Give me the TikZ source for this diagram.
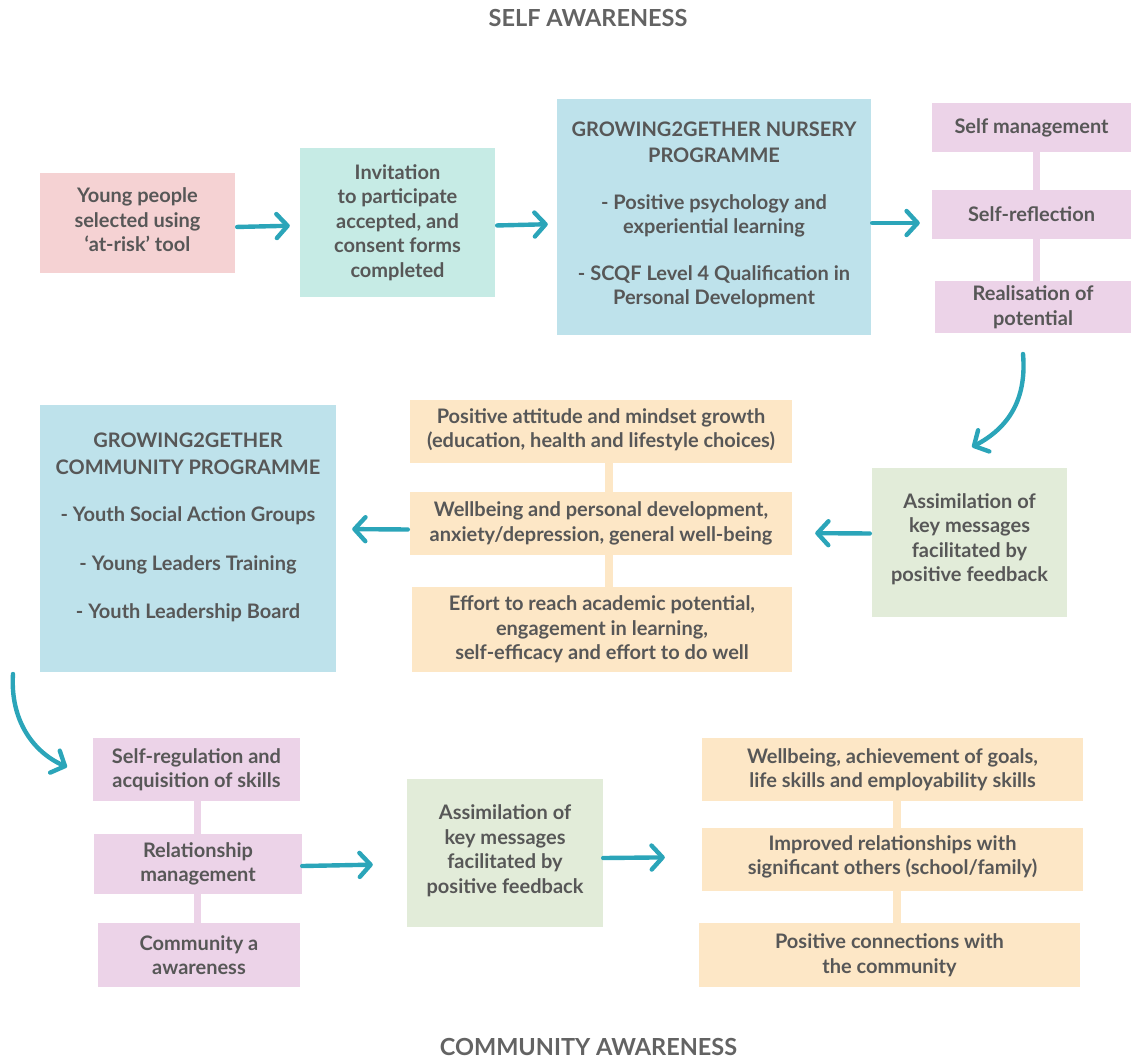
\documentclass[tikz,border=0pt]{standalone}
\usepackage{fontspec}
\setmainfont{Lato}
\usetikzlibrary{arrows.meta}
\definecolor{pinkc}{HTML}{F5D2D3}
\definecolor{mintc}{HTML}{C6EBE5}
\definecolor{bluec}{HTML}{BEE2EB}
\definecolor{lilacc}{HTML}{ECD3E8}
\definecolor{orangec}{HTML}{FDE7C6}
\definecolor{greenc}{HTML}{E2ECD9}
\definecolor{tealc}{HTML}{2BA5B9}
\definecolor{textc}{HTML}{575757}
\definecolor{titlec}{HTML}{636363}
\begin{document}
\begin{tikzpicture}[x=1pt,y=-1pt,
  box/.style={inner sep=0pt, align=center, text=textc,
    font=\bfseries\fontsize{20}{24.5}\selectfont},
  titletext/.style={text=titlec, font=\bfseries\fontsize{23.5}{26}\selectfont},
  arr/.style={draw=tealc, line width=4.4pt, line cap=round,
    -{Straight Barb[length=11pt,width=24pt,line cap=round,line join=round]}},
  link/.style={line width=7.5pt}]
\useasboundingbox (0,0) rectangle (1132,1061);

\node[titletext] (t1) at (588,18) {SELF AWARENESS};
\node[titletext] (t2) at (588.5,1047) {COMMUNITY AWARENESS};

% top row
\node[box, fill=pinkc, minimum width=195pt, minimum height=100pt] (b1) at (137.5,223)
  {Young people\\selected using\\‘at-risk’ tool\\[-18pt]\mbox{}};
\node[box, fill=mintc, minimum width=195pt, minimum height=149pt] (b2) at (397.5,222.5)
  {Invitation\\to participate\\accepted, and\\consent forms\\completed};
\node[box, fill=bluec, minimum width=314pt, minimum height=236pt] (b3) at (714,217)
  {GROWING2GETHER NURSERY\\[2pt]PROGRAMME\\[22pt]- Positive psychology and\\experiential learning\\[22pt]- SCQF Level 4 Qualification in\\Personal Development\\[-17pt]\mbox{}};
\node[box, fill=lilacc, minimum width=199pt, minimum height=49pt] (s1) at (1031.5,127.5) {Self management};
\node[box, fill=lilacc, minimum width=199pt, minimum height=49pt] (s2) at (1031.5,214.5) {Self-reflection};
\node[box, fill=lilacc, minimum width=196pt, minimum height=52pt] (s3) at (1033,307) {Realisation of\\potential};
\draw[lilacc, link] ([xshift=5pt]s1.south) -- ([xshift=5pt]s2.north);
\draw[lilacc, link] ([xshift=5pt]s2.south) -- ([xshift=3.5pt]s3.north);

% middle row
\node[box, fill=greenc, minimum width=195pt, minimum height=149pt] (g1) at (969.5,542.5)
  {Assimilation of\\key messages\\facilitated by\\positive feedback\\[-15pt]\mbox{}};
\node[box, fill=orangec, minimum width=382pt, minimum height=63pt] (o1) at (601,431.5)
  {Positive attitude and mindset growth\\(education, health and lifestyle choices)\\[-18pt]\mbox{}};
\node[box, fill=orangec, minimum width=382pt, minimum height=63pt] (o2) at (601,523.5)
  {Wellbeing and personal development,\\anxiety/depression, general well-being};
\node[box, fill=orangec, minimum width=380pt, minimum height=85pt] (o3) at (602,629.5)
  {Effort to reach academic potential,\\engagement in learning,\\self-efficacy and effort to do well};
\draw[orangec, link] ([xshift=8pt]o1.south) -- ([xshift=8pt]o2.north);
\draw[orangec, link] ([xshift=8pt]o2.south) -- ([xshift=7pt]o3.north);
\node[box, fill=bluec, minimum width=296pt, minimum height=267pt] (c1) at (188,538.5)
  {GROWING2GETHER\\[2pt]COMMUNITY PROGRAMME\\[23pt]- Youth Social Action Groups\\[24pt]- Young Leaders Training\\[24pt]- Youth Leadership Board\\[1pt]\mbox{}};

% bottom row
\node[box, fill=lilacc, minimum width=207pt, minimum height=63pt] (l1) at (196.5,769.5)
  {Self-regulation and\\acquisition of skills};
\node[box, fill=lilacc, minimum width=208pt, minimum height=60pt] (l2) at (198,864)
  {Relationship\\management};
\node[box, fill=lilacc, minimum width=202pt, minimum height=64pt] (l3) at (199,955)
  {Community a\\awareness};
\draw[lilacc, link] ([xshift=1pt]l1.south) -- ([xshift=-0.5pt]l2.north);
\draw[lilacc, link] ([xshift=-0.5pt]l2.south) -- ([xshift=-1.5pt]l3.north);
\node[box, fill=greenc, minimum width=196pt, minimum height=148pt] (g2) at (505,853)
  {Assimilation of\\key messages\\facilitated by\\positive feedback\\[-17pt]\mbox{}};
\node[box, fill=orangec, minimum width=381pt, minimum height=63pt] (r1) at (892.5,769.5)
  {Wellbeing, achievement of goals,\\life skills and employability skills};
\node[box, fill=orangec, minimum width=381pt, minimum height=63pt] (r2) at (892.5,859.5)
  {Improved relationships with\\significant others (school/family)\\[-16pt]\mbox{}};
\node[box, fill=orangec, minimum width=381pt, minimum height=64pt] (r3) at (889.5,955)
  {Positive connections with\\the community};
\draw[orangec, link] ([xshift=4.5pt]r1.south) -- ([xshift=4.5pt]r2.north);
\draw[orangec, link] ([xshift=4.5pt]r2.south) -- ([xshift=7.5pt]r3.north);

% arrows
\draw[arr, shorten <=2pt, shorten >=10pt] ([yshift=-4pt]b1.east) -- ([yshift=-3pt]b2.west);
\draw[arr, shorten <=2pt, shorten >=9pt] ([yshift=-3pt]b2.east) -- ([yshift=-7pt]b3.west);
\draw[arr, shorten <=1pt, shorten >=12pt] ([yshift=-6pt]b3.east) -- ([yshift=-8.5pt]s2.west);
\draw[arr, shorten <=2pt, shorten >=23pt] ([yshift=9pt]g1.west) -- ([yshift=-9.5pt]o2.east);
\draw[arr, shorten <=2pt, shorten >=16pt] ([yshift=-6pt]o2.west) -- ([yshift=9.5pt]c1.east);
\draw[arr, shorten <=0pt, shorten >=34pt] ([yshift=-2pt]l2.east) -- ([yshift=-11pt]g2.west);
\draw[arr, shorten <=0pt, shorten >=37pt] ([yshift=-5pt]g2.east) -- ([yshift=2.5pt]r2.west);

\coordinate (k1) at (1023,354);
\coordinate (k2) at (972,447);
\draw[arr] (k1) .. controls (1027,400) and (1008,428) .. (k2);
\coordinate (k3) at (13,674);
\coordinate (k4) at (67,767);
\draw[arr] (k3) .. controls (10,720) and (33,752) .. (k4);
\end{tikzpicture}
\end{document}
